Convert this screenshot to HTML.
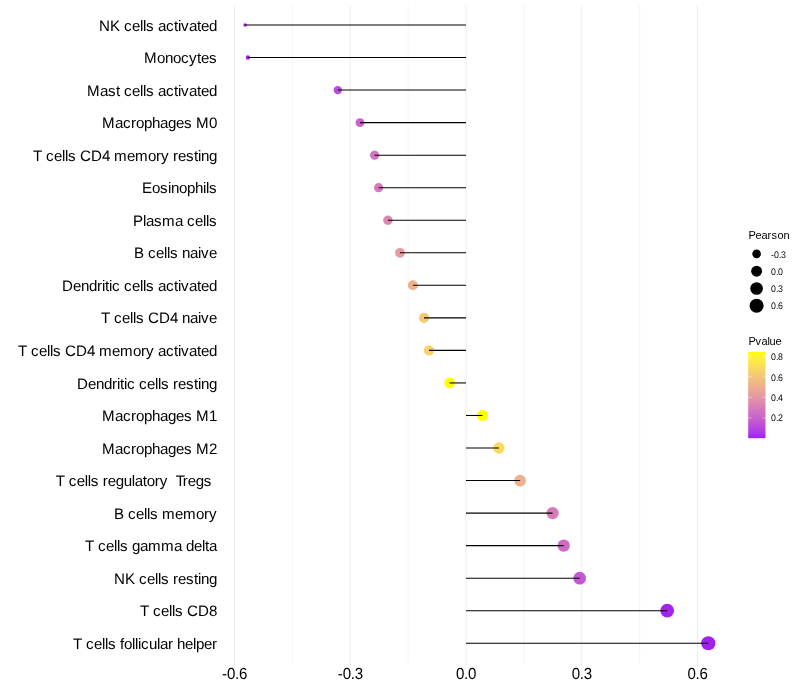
<!DOCTYPE html>
<html><head><meta charset="utf-8"><title>Lollipop</title>
<style>
html,body{margin:0;padding:0;background:#fff;}
svg{display:block;will-change:transform;}
body{-webkit-font-smoothing:antialiased;}
text{font-family:"Liberation Sans",Arial,sans-serif;text-rendering:geometricPrecision;}
</style></head><body>
<svg width="800" height="700" viewBox="0 0 800 700">
<rect width="800" height="700" fill="#fff"/>

<line x1="292.38" y1="5.50" x2="292.38" y2="662.78" stroke="#ebebeb" stroke-width="0.53"/>
<line x1="408.13" y1="5.50" x2="408.13" y2="662.78" stroke="#ebebeb" stroke-width="0.53"/>
<line x1="523.87" y1="5.50" x2="523.87" y2="662.78" stroke="#ebebeb" stroke-width="0.53"/>
<line x1="639.62" y1="5.50" x2="639.62" y2="662.78" stroke="#ebebeb" stroke-width="0.53"/>
<line x1="234.50" y1="5.50" x2="234.50" y2="662.78" stroke="#ebebeb" stroke-width="0.95"/>
<line x1="350.25" y1="5.50" x2="350.25" y2="662.78" stroke="#ebebeb" stroke-width="0.95"/>
<line x1="466.00" y1="5.50" x2="466.00" y2="662.78" stroke="#ebebeb" stroke-width="0.95"/>
<line x1="581.75" y1="5.50" x2="581.75" y2="662.78" stroke="#ebebeb" stroke-width="0.95"/>
<line x1="697.50" y1="5.50" x2="697.50" y2="662.78" stroke="#ebebeb" stroke-width="0.95"/>
<line x1="234.50" y1="662.78" x2="234.50" y2="665.53" stroke="#d4d4d4" stroke-width="0.8"/>
<line x1="350.25" y1="662.78" x2="350.25" y2="665.53" stroke="#d4d4d4" stroke-width="0.8"/>
<line x1="466.00" y1="662.78" x2="466.00" y2="665.53" stroke="#d4d4d4" stroke-width="0.8"/>
<line x1="581.75" y1="662.78" x2="581.75" y2="665.53" stroke="#d4d4d4" stroke-width="0.8"/>
<line x1="697.50" y1="662.78" x2="697.50" y2="665.53" stroke="#d4d4d4" stroke-width="0.8"/>
<circle cx="245.10" cy="25.00" r="1.77" fill="#a121f0"/>
<circle cx="247.90" cy="57.54" r="2.19" fill="#a122ef"/>
<circle cx="337.80" cy="90.08" r="4.16" fill="#b94adc"/>
<circle cx="360.00" cy="122.62" r="4.43" fill="#c861cd"/>
<circle cx="374.60" cy="155.16" r="4.59" fill="#d274bf"/>
<circle cx="378.60" cy="187.70" r="4.64" fill="#d579bb"/>
<circle cx="387.90" cy="220.24" r="4.73" fill="#dc87b0"/>
<circle cx="400.00" cy="252.78" r="4.86" fill="#e59ba0"/>
<circle cx="412.90" cy="285.32" r="4.98" fill="#eeb28b"/>
<circle cx="424.00" cy="317.86" r="5.09" fill="#f5c875"/>
<circle cx="429.00" cy="350.40" r="5.13" fill="#f7d269"/>
<circle cx="449.60" cy="382.94" r="5.32" fill="#ffff00"/>
<circle cx="482.40" cy="415.48" r="5.59" fill="#ffff00"/>
<circle cx="498.90" cy="448.02" r="5.72" fill="#f9db5e"/>
<circle cx="520.10" cy="480.56" r="5.88" fill="#eeb18d"/>
<circle cx="552.60" cy="513.10" r="6.12" fill="#d67aba"/>
<circle cx="563.70" cy="545.64" r="6.20" fill="#ce6bc5"/>
<circle cx="579.70" cy="578.18" r="6.31" fill="#c258d3"/>
<circle cx="667.20" cy="610.72" r="6.86" fill="#a224ef"/>
<circle cx="708.30" cy="643.26" r="7.11" fill="#a020f0"/>
<line x1="245.10" y1="25.00" x2="466.00" y2="25.00" stroke="#000" stroke-width="1.07"/>
<line x1="247.90" y1="57.54" x2="466.00" y2="57.54" stroke="#000" stroke-width="1.07"/>
<line x1="337.80" y1="90.08" x2="466.00" y2="90.08" stroke="#000" stroke-width="1.07"/>
<line x1="360.00" y1="122.62" x2="466.00" y2="122.62" stroke="#000" stroke-width="1.07"/>
<line x1="374.60" y1="155.16" x2="466.00" y2="155.16" stroke="#000" stroke-width="1.07"/>
<line x1="378.60" y1="187.70" x2="466.00" y2="187.70" stroke="#000" stroke-width="1.07"/>
<line x1="387.90" y1="220.24" x2="466.00" y2="220.24" stroke="#000" stroke-width="1.07"/>
<line x1="400.00" y1="252.78" x2="466.00" y2="252.78" stroke="#000" stroke-width="1.07"/>
<line x1="412.90" y1="285.32" x2="466.00" y2="285.32" stroke="#000" stroke-width="1.07"/>
<line x1="424.00" y1="317.86" x2="466.00" y2="317.86" stroke="#000" stroke-width="1.07"/>
<line x1="429.00" y1="350.40" x2="466.00" y2="350.40" stroke="#000" stroke-width="1.07"/>
<line x1="449.60" y1="382.94" x2="466.00" y2="382.94" stroke="#000" stroke-width="1.07"/>
<line x1="482.40" y1="415.48" x2="466.00" y2="415.48" stroke="#000" stroke-width="1.07"/>
<line x1="498.90" y1="448.02" x2="466.00" y2="448.02" stroke="#000" stroke-width="1.07"/>
<line x1="520.10" y1="480.56" x2="466.00" y2="480.56" stroke="#000" stroke-width="1.07"/>
<line x1="552.60" y1="513.10" x2="466.00" y2="513.10" stroke="#000" stroke-width="1.07"/>
<line x1="563.70" y1="545.64" x2="466.00" y2="545.64" stroke="#000" stroke-width="1.07"/>
<line x1="579.70" y1="578.18" x2="466.00" y2="578.18" stroke="#000" stroke-width="1.07"/>
<line x1="667.20" y1="610.72" x2="466.00" y2="610.72" stroke="#000" stroke-width="1.07"/>
<line x1="708.30" y1="643.26" x2="466.00" y2="643.26" stroke="#000" stroke-width="1.07"/>
<text x="99 110 120 124 132 140 143 146 154 158 166 174 178 181 189 197 201 209" y="31" font-size="15.1" fill="#000" xml:space="preserve">NK cells activated</text>
<text x="144 157 165 173 181 189 197 201 209" y="63" font-size="15.1" fill="#000" xml:space="preserve">Monocytes</text>
<text x="87 100 108 116 120 124 132 140 143 146 154 158 166 174 178 181 189 197 201 209" y="96" font-size="15.1" fill="#000" xml:space="preserve">Mast cells activated</text>
<text x="102 115 123 131 136 144 152 160 168 176 184 192 196 209" y="128" font-size="15.1" fill="#000" xml:space="preserve">Macrophages M0</text>
<text x="33 42 46 54 62 65 68 76 80 91 102 110 114 127 135 148 156 161 169 173 178 186 194 198 201 209" y="161" font-size="15.1" fill="#000" xml:space="preserve">T cells CD4 memory resting</text>
<text x="142 152 160 168 171 179 187 195 203 206 209" y="193" font-size="15.1" fill="#000" xml:space="preserve">Eosinophils</text>
<text x="133 143 146 154 162 175 183 187 195 203 206 209" y="226" font-size="15.1" fill="#000" xml:space="preserve">Plasma cells</text>
<text x="134 144 148 156 164 167 170 178 182 190 198 201 209" y="258" font-size="15.1" fill="#000" xml:space="preserve">B cells naive</text>
<text x="62 73 81 89 97 102 105 109 112 120 124 132 140 143 146 154 158 166 174 178 181 189 197 201 209" y="291" font-size="15.1" fill="#000" xml:space="preserve">Dendritic cells activated</text>
<text x="101 110 114 122 130 133 136 144 148 159 170 178 182 190 198 201 209" y="323" font-size="15.1" fill="#000" xml:space="preserve">T cells CD4 naive</text>
<text x="18 27 31 39 47 50 53 61 65 76 87 95 99 112 120 133 141 146 154 158 166 174 178 181 189 197 201 209" y="356" font-size="15.1" fill="#000" xml:space="preserve">T cells CD4 memory activated</text>
<text x="77 88 96 104 112 117 120 124 127 135 139 147 155 158 161 169 173 178 186 194 198 201 209" y="389" font-size="15.1" fill="#000" xml:space="preserve">Dendritic cells resting</text>
<text x="102 115 123 131 136 144 152 160 168 176 184 192 196 209" y="421" font-size="15.1" fill="#000" xml:space="preserve">Macrophages M1</text>
<text x="102 115 123 131 136 144 152 160 168 176 184 192 196 209" y="454" font-size="15.1" fill="#000" xml:space="preserve">Macrophages M2</text>
<text x="55.8 64.8 68.8 76.8 84.8 87.8 90.8 98.8 102.8 107.8 115.8 123.8 131.8 134.8 142.8 146.8 154.8 159.8 167.8 171.8 175.8 182.8 187.8 195.8 203.8 211.8" y="486" font-size="15.1" fill="#000" xml:space="preserve">T cells regulatory  Tregs </text>
<text x="114 124 128 136 144 147 150 158 162 175 183 196 204 209" y="519" font-size="15.1" fill="#000" xml:space="preserve">B cells memory</text>
<text x="85 94 98 106 114 117 120 128 132 140 148 161 174 182 186 194 202 205 209" y="551" font-size="15.1" fill="#000" xml:space="preserve">T cells gamma delta</text>
<text x="114 125 135 139 147 155 158 161 169 173 178 186 194 198 201 209" y="584" font-size="15.1" fill="#000" xml:space="preserve">NK cells resting</text>
<text x="140 149 153 161 169 172 175 183 187 198 209" y="616" font-size="15.1" fill="#000" xml:space="preserve">T cells CD8</text>
<text x="73 82 86 94 102 105 108 116 120 124 132 135 138 141 149 157 160 168 173 177 185 193 196 204 212" y="649" font-size="15.1" fill="#000" xml:space="preserve">T cells follicular helper</text>
<text transform="translate(0,679) scale(1,1.065)" x="222.00 227.00 235.00 239.00" y="0" font-size="15.1" fill="#000">-0.6</text>
<text transform="translate(0,679) scale(1,1.065)" x="337.75 342.75 350.75 354.75" y="0" font-size="15.1" fill="#000">-0.3</text>
<text transform="translate(0,679) scale(1,1.065)" x="456.00 464.00 468.00" y="0" font-size="15.1" fill="#000">0.0</text>
<text transform="translate(0,679) scale(1,1.065)" x="571.75 579.75 583.75" y="0" font-size="15.1" fill="#000">0.3</text>
<text transform="translate(0,679) scale(1,1.065)" x="687.50 695.50 699.50" y="0" font-size="15.1" fill="#000">0.6</text>
<text style="text-rendering:auto" x="748.50 755.50 761.50 767.50 771.50 777.50 783.50" y="239.00" font-size="11" fill="#000">Pearson</text>
<circle cx="756.6" cy="253.9" r="4.31" fill="#000"/>
<text transform="scale(0.915,1)" x="842.62 845.90 851.37 853.55" y="258.00" font-size="9.6" fill="#000">-0.3</text>
<circle cx="756.6" cy="271.2" r="5.46" fill="#000"/>
<text transform="scale(0.915,1)" x="842.62 848.09 850.27" y="275.00" font-size="9.6" fill="#000">0.0</text>
<circle cx="756.6" cy="288.5" r="6.32" fill="#000"/>
<text transform="scale(0.915,1)" x="842.62 848.09 850.27" y="292.00" font-size="9.6" fill="#000">0.3</text>
<circle cx="756.6" cy="305.8" r="7.04" fill="#000"/>
<text transform="scale(0.915,1)" x="842.62 848.09 850.27" y="309.00" font-size="9.6" fill="#000">0.6</text>
<text style="text-rendering:auto" x="748.50 755.50 761.50 767.50 769.50 775.50" y="345.00" font-size="11" fill="#000">Pvalue</text>
<defs><linearGradient id="cb" x1="0" y1="1" x2="0" y2="0">
<stop offset="0.000" stop-color="#a020f0"/>
<stop offset="0.050" stop-color="#aa33e8"/>
<stop offset="0.100" stop-color="#b441e1"/>
<stop offset="0.150" stop-color="#bc4ed9"/>
<stop offset="0.200" stop-color="#c35ad1"/>
<stop offset="0.250" stop-color="#ca66c9"/>
<stop offset="0.300" stop-color="#d171c1"/>
<stop offset="0.350" stop-color="#d67bb9"/>
<stop offset="0.400" stop-color="#dc86b1"/>
<stop offset="0.450" stop-color="#e190a9"/>
<stop offset="0.500" stop-color="#e59ba0"/>
<stop offset="0.550" stop-color="#e9a597"/>
<stop offset="0.600" stop-color="#edaf8e"/>
<stop offset="0.650" stop-color="#f0b984"/>
<stop offset="0.700" stop-color="#f3c37a"/>
<stop offset="0.750" stop-color="#f6cd6f"/>
<stop offset="0.800" stop-color="#f8d763"/>
<stop offset="0.850" stop-color="#fbe156"/>
<stop offset="0.900" stop-color="#fceb46"/>
<stop offset="0.950" stop-color="#fef530"/>
<stop offset="1.000" stop-color="#ffff00"/>
</linearGradient></defs>
<rect x="748.2" y="351.9" width="17.30" height="86.30" fill="url(#cb)"/>
<line x1="748.2" y1="417.82" x2="751.60" y2="417.82" stroke="#fff" stroke-opacity="0.7" stroke-width="0.6"/>
<line x1="762.10" y1="417.82" x2="765.5" y2="417.82" stroke="#fff" stroke-opacity="0.7" stroke-width="0.6"/>
<text transform="scale(0.915,1)" x="842.62 848.09 850.27" y="421.00" font-size="9.6" fill="#000">0.2</text>
<line x1="748.2" y1="397.34" x2="751.60" y2="397.34" stroke="#fff" stroke-opacity="0.7" stroke-width="0.6"/>
<line x1="762.10" y1="397.34" x2="765.5" y2="397.34" stroke="#fff" stroke-opacity="0.7" stroke-width="0.6"/>
<text transform="scale(0.915,1)" x="842.62 848.09 850.27" y="401.00" font-size="9.6" fill="#000">0.4</text>
<line x1="748.2" y1="376.86" x2="751.60" y2="376.86" stroke="#fff" stroke-opacity="0.7" stroke-width="0.6"/>
<line x1="762.10" y1="376.86" x2="765.5" y2="376.86" stroke="#fff" stroke-opacity="0.7" stroke-width="0.6"/>
<text transform="scale(0.915,1)" x="842.62 848.09 850.27" y="381.00" font-size="9.6" fill="#000">0.6</text>
<line x1="748.2" y1="356.37" x2="751.60" y2="356.37" stroke="#fff" stroke-opacity="0.7" stroke-width="0.6"/>
<line x1="762.10" y1="356.37" x2="765.5" y2="356.37" stroke="#fff" stroke-opacity="0.7" stroke-width="0.6"/>
<text transform="scale(0.915,1)" x="842.62 848.09 850.27" y="360.00" font-size="9.6" fill="#000">0.8</text>
</svg>
</body></html>
